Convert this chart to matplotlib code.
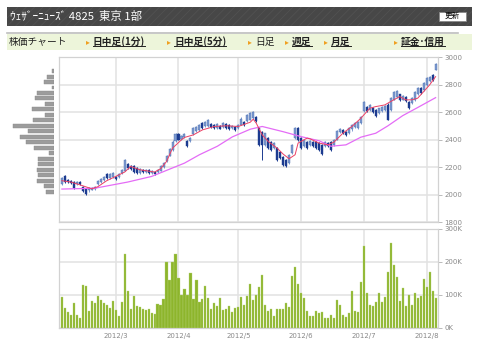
import matplotlib
matplotlib.use("Agg")
import matplotlib.pyplot as plt
from matplotlib.patches import Rectangle
from matplotlib.lines import Line2D

plt.rcParams['font.family'] = ['Noto Sans CJK JP', 'DejaVu Sans']
plt.rcParams['hatch.linewidth'] = 0.6

# daily candles (trading days Feb 2012 - Aug 2012)
opens = [
    2075, 2135, 2106, 2099, 2089, 2074, 2090, 2055, 2038, 2030,
    2036, 2042, 2078, 2092, 2106, 2152, 2122, 2128, 2130, 2126,
    2158, 2175, 2220, 2210, 2208, 2192, 2158, 2180, 2165, 2180,
    2157, 2167, 2165, 2175, 2200, 2242, 2284, 2328, 2388, 2438,
    2405, 2417, 2390, 2388, 2442, 2460, 2472, 2518, 2498, 2498,
    2512, 2506, 2486, 2502, 2490, 2512, 2506, 2485, 2495, 2486,
    2510, 2530, 2534, 2546, 2558, 2566, 2482, 2458, 2364, 2410,
    2385, 2340, 2336, 2312, 2276, 2250, 2230, 2302, 2412, 2482,
    2410, 2352, 2385, 2360, 2385, 2380, 2373, 2360, 2352, 2374,
    2385, 2364, 2400, 2456, 2470, 2458, 2448, 2474, 2490, 2486,
    2522, 2606, 2640, 2618, 2628, 2616, 2594, 2611, 2618, 2656,
    2618, 2692, 2708, 2730, 2692, 2712, 2676, 2667, 2692, 2732,
    2774, 2763, 2800, 2824, 2870, 2910]
highs = [
    2130, 2142, 2112, 2105, 2096, 2100, 2096, 2062, 2045, 2052,
    2056, 2064, 2106, 2120, 2132, 2160, 2154, 2162, 2136, 2154,
    2186, 2258, 2228, 2216, 2214, 2198, 2192, 2186, 2186, 2186,
    2178, 2172, 2186, 2215, 2240, 2288, 2338, 2394, 2446, 2446,
    2436, 2446, 2396, 2420, 2490, 2502, 2514, 2526, 2538, 2550,
    2518, 2514, 2518, 2508, 2526, 2518, 2512, 2508, 2502, 2512,
    2562, 2536, 2588, 2600, 2612, 2574, 2490, 2466, 2452, 2416,
    2392, 2380, 2344, 2320, 2284, 2258, 2296, 2368, 2490, 2490,
    2416, 2404, 2392, 2398, 2392, 2388, 2380, 2366, 2388, 2380,
    2392, 2404, 2470, 2484, 2476, 2464, 2494, 2514, 2526, 2538,
    2575, 2680, 2648, 2660, 2636, 2622, 2634, 2646, 2654, 2664,
    2712, 2756, 2762, 2736, 2728, 2720, 2684, 2712, 2756, 2782,
    2780, 2818, 2854, 2866, 2878, 2956]
lows = [
    2068, 2086, 2082, 2078, 2042, 2066, 2068, 2018, 1994, 2022,
    2030, 2036, 2072, 2086, 2100, 2114, 2116, 2122, 2104, 2120,
    2152, 2168, 2184, 2176, 2160, 2152, 2152, 2156, 2160, 2152,
    2150, 2144, 2160, 2168, 2194, 2236, 2278, 2320, 2380, 2394,
    2400, 2410, 2344, 2382, 2436, 2454, 2466, 2480, 2492, 2492,
    2484, 2480, 2480, 2474, 2484, 2480, 2470, 2480, 2466, 2480,
    2504, 2498, 2528, 2540, 2550, 2526, 2356, 2250, 2356, 2332,
    2320, 2332, 2248, 2260, 2210, 2198, 2224, 2296, 2404, 2392,
    2332, 2344, 2332, 2352, 2344, 2332, 2320, 2290, 2344, 2344,
    2320, 2356, 2394, 2450, 2442, 2430, 2442, 2466, 2484, 2478,
    2514, 2600, 2600, 2612, 2594, 2564, 2588, 2604, 2612, 2540,
    2612, 2686, 2702, 2684, 2686, 2672, 2622, 2660, 2684, 2726,
    2732, 2756, 2794, 2818, 2830, 2904]
closes = [
    2122, 2092, 2090, 2086, 2050, 2094, 2074, 2026, 2002, 2046,
    2050, 2058, 2100, 2114, 2126, 2122, 2148, 2155, 2110, 2148,
    2180, 2250, 2190, 2183, 2166, 2158, 2186, 2162, 2180, 2158,
    2172, 2150, 2180, 2208, 2232, 2280, 2330, 2385, 2438, 2400,
    2430, 2438, 2352, 2414, 2482, 2494, 2506, 2486, 2530, 2542,
    2490, 2486, 2511, 2480, 2518, 2486, 2478, 2502, 2472, 2506,
    2554, 2505, 2580, 2592, 2598, 2534, 2364, 2364, 2445, 2340,
    2328, 2373, 2255, 2267, 2218, 2206, 2288, 2360, 2482, 2400,
    2340, 2397, 2340, 2390, 2352, 2340, 2328, 2297, 2380, 2352,
    2328, 2398, 2462, 2478, 2448, 2436, 2488, 2506, 2518, 2530,
    2567, 2672, 2606, 2652, 2602, 2570, 2628, 2640, 2648, 2546,
    2706, 2748, 2754, 2692, 2720, 2680, 2630, 2705, 2748, 2774,
    2740, 2810, 2846, 2858, 2836, 2948]

# volume in thousands of shares
volumes_k = [
    93, 59, 46, 38, 74, 39, 30, 128, 125, 52, 82, 74, 97, 85, 74, 70, 60, 80,
    54, 35, 78, 222, 110, 56, 97, 66, 64, 58, 54, 58, 43, 41, 72, 68, 86, 200, 145, 200, 224,
    150, 98, 117, 100, 164, 87, 144, 77, 87, 125, 91, 58, 74, 66, 91, 54, 58, 66, 46, 61,
    64, 93, 68, 97, 131, 85, 100, 123, 159, 70, 52, 58, 36, 58, 58, 56, 74, 64, 156, 183, 131,
    106, 89, 50, 36, 36, 51, 43, 47, 30, 30, 39, 30, 84, 68, 37, 32, 43, 112, 49, 47, 138,
    247, 104, 70, 65, 78, 104, 78, 92, 168, 257, 191, 153, 82, 119, 66, 99, 68, 104, 89, 95, 147,
    123, 167, 112, 91]

# moving averages (day index, price)
ma_short_x = [0, 3, 6, 10, 12, 15, 18, 21, 23, 26, 31, 33, 35, 37, 40, 41, 44, 47, 51,
              55, 59, 63, 64, 65, 67, 69, 72, 74, 76, 78, 79, 82, 83, 86, 89, 91, 94,
              97, 100, 103, 105, 108, 110, 113, 115, 117, 119, 121, 123, 125]
ma_short_y = [2101, 2091, 2071, 2042, 2057, 2101, 2132, 2164, 2205, 2181, 2164, 2188, 2241,
              2338, 2399, 2416, 2435, 2471, 2496, 2501, 2496, 2527, 2549, 2520, 2435, 2387,
              2338, 2295, 2261, 2290, 2375, 2411, 2406, 2375, 2362, 2382, 2447, 2496, 2556,
              2629, 2641, 2653, 2678, 2714, 2690, 2690, 2702, 2750, 2799, 2859]
ma_long_x = [0, 11, 22, 30, 41, 46, 52, 57, 63, 67, 74, 80, 86, 90, 95, 100, 105, 109,
             114, 119, 125]
ma_long_y = [2040, 2046, 2091, 2132, 2229, 2290, 2352, 2420, 2476, 2496, 2458, 2422, 2392,
             2352, 2362, 2418, 2447, 2500, 2575, 2634, 2706]

# volume-by-price profile (bin centre, relative volume)
profile_price = [2020, 2060, 2100, 2140, 2180, 2220, 2260, 2300, 2340, 2380, 2420, 2460,
                 2500, 2540, 2580, 2620, 2660, 2700, 2740, 2780, 2820, 2860, 2900]
profile_vol = [8.3, 10.3, 17.3, 16.7, 17.3, 16, 16.7, 5, 20.3, 28.3, 34.3, 26.7,
               41, 21, 9, 22.7, 9, 19, 17.3, 2.7, 10.3, 7.7, 2.7]

month_idx = [18, 39, 59, 80, 101, 122]
month_labels = ["2012/3", "2012/4", "2012/5", "2012/6", "2012/7", "2012/8"]
price_ticks = [1800, 2000, 2200, 2400, 2600, 2800, 3000]
vol_ticks = [0, 100000, 200000, 300000]
vol_labels = ["0K", "100K", "200K", "300K"]

W, H = 480, 352
GRID = '#e2e2e2'
FRAME = '#d2d2d2'
TXT = '#888888'


def rect(x0, y0, x1, y1, **kw):
    """Rectangle given in pixel coordinates from top-left."""
    return Rectangle((x0 / W, 1 - y1 / H), (x1 - x0) / W, (y1 - y0) / H,
                     transform=fig.transFigure, **kw)


fig = plt.figure(figsize=(4.8, 3.52), dpi=100)

# header bar
fig.patches.append(rect(7, 7, 472, 26, facecolor='#474747', edgecolor='#515151',
                        hatch='////', lw=0))
fig.text(10 / W, 1 - 16.5 / H, "ｳｪｻﾞｰﾆｭｰｽﾞ 4825  東京 1部", color='white',
         fontsize=8.2, va='center', ha='left')
fig.patches.append(rect(439, 11.5, 466, 21, facecolor='white', edgecolor='#888888', lw=0.6))
fig.text(452.5 / W, 1 - 16.4 / H, "更新", color='black', fontsize=5.5, va='center', ha='center')

# menu bar
fig.patches.append(rect(7, 33.5, 472, 49.5, facecolor='#edf5da', lw=0))
fig.add_artist(Line2D([7 / W, 458 / W], [1 - 33 / H, 1 - 33 / H], color='#bdbdbd', lw=1.2))
menu_y = 1 - 42 / H
fig.text(9 / W, menu_y, "株価チャート", fontsize=7, va='center', ha='left', color='#222222')
menu_items = [("日中足(1分)", 93, True), ("日中足(5分)", 174, True), ("日足", 255, False),
              ("週足", 292, True), ("月足", 331, True), ("証金･信用", 401, True)]
links = []
for label, xpx, linked in menu_items:
    fig.text((xpx - 7) / W, menu_y, "▸", fontsize=5.5, va='center', ha='left',
             color='#f0a020', family='DejaVu Sans')
    t = fig.text(xpx / W, menu_y, label, fontsize=7, va='center', ha='left',
                 color='#222222', fontweight='bold' if linked else 'normal')
    if linked:
        links.append(t)

# price panel
x_lo, x_hi = -0.87, 125.8
ax = fig.add_axes([59.3 / W, 1 - 222 / H, (438 - 59.3) / W, (222 - 57.3) / H])
days = list(range(len(closes)))
for i in days:
    up = closes[i] >= opens[i]
    col = '#7d9bd0' if up else '#1c3b90'
    ax.vlines(i, lows[i], highs[i], color=col, lw=0.7, zorder=3)
    ax.bar(i, abs(closes[i] - opens[i]) or 2, bottom=min(opens[i], closes[i]), width=0.68,
           color=col, edgecolor='#4d6fb0' if up else col, lw=0.3, zorder=4)
ax.plot(ma_long_x, ma_long_y, color='#e46cf6', lw=0.9, zorder=5)
ax.plot(ma_short_x, ma_short_y, color='#ec3f63', lw=0.7, zorder=6)
ax.set_xlim(x_lo, x_hi)
ax.set_ylim(1800, 3000)
ax.set_yticks(price_ticks)
ax.set_xticks(month_idx)
ax.set_xticklabels([])
ax.yaxis.tick_right()
ax.tick_params(axis='y', length=3, width=0.6, color='#b0b0b0', pad=1.5,
               labelsize=5, labelcolor=TXT)
ax.tick_params(axis='x', length=0)
ax.grid(color=GRID, lw=1.1)
ax.set_axisbelow(True)
for s in ax.spines.values():
    s.set_color(FRAME)
    s.set_linewidth(0.9)
for lab in ax.get_yticklabels():
    lab.set_family('DejaVu Sans')

# volume-by-price profile to the left
axp = fig.add_axes([12 / W, 1 - 222 / H, (54.3 - 12) / W, (222 - 57.3) / H])
axp.barh(profile_price, profile_vol, height=29, color='#9c9c9c', edgecolor='#8a8a8a', lw=0.3)
axp.set_xlim(42.3, 0)
axp.set_ylim(1800, 3000)
axp.axis('off')

# volume panel
axv = fig.add_axes([59.3 / W, 1 - 327.7 / H, (438 - 59.3) / W, (327.7 - 228.5) / H])
axv.bar(days, [v * 1000 for v in volumes_k], width=0.72, color='#8db52c',
        edgecolor='#b9d47a', lw=0.25, zorder=3)
axv.set_xlim(x_lo, x_hi)
axv.set_ylim(0, 300000)
axv.set_yticks(vol_ticks)
axv.set_yticklabels(vol_labels)
axv.set_xticks(month_idx)
axv.set_xticklabels(month_labels)
axv.yaxis.tick_right()
axv.tick_params(axis='y', length=3, width=0.6, color='#b0b0b0', pad=1.5,
                labelsize=5, labelcolor=TXT)
axv.tick_params(axis='x', length=0, pad=4, labelsize=5, labelcolor=TXT)
axv.grid(color=GRID, lw=1.1)
axv.set_axisbelow(True)
for s in axv.spines.values():
    s.set_color(FRAME)
    s.set_linewidth(0.9)
for lab in axv.get_yticklabels() + axv.get_xticklabels():
    lab.set_family('DejaVu Sans')

# underline the menu links
fig.canvas.draw()
r = fig.canvas.get_renderer()
for t in links:
    bb = t.get_window_extent(r)
    yl = (bb.y0 + 1.5) / H
    fig.add_artist(Line2D([bb.x0 / W, bb.x1 / W], [yl, yl], color='#222222', lw=0.7))

fig.savefig("out.png", dpi=100)
